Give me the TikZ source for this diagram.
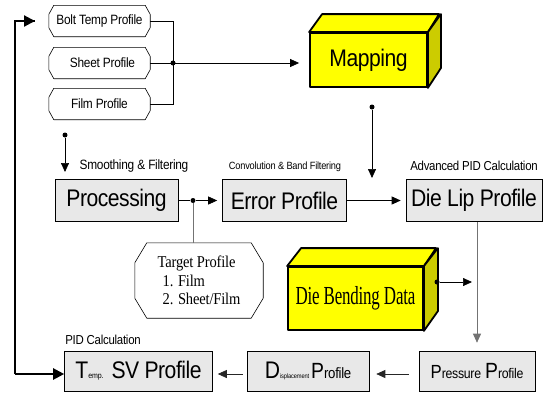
\documentclass[tikz,border=0pt]{standalone}
\usepackage{fontspec}
\usepackage{graphicx}
\setmainfont{Liberation Sans}
\newfontfamily\sfT[LetterSpace=-2,FakeStretch=0.88]{Liberation Sans}
\newfontfamily\rmT[LetterSpace=-1,FakeStretch=0.88]{Liberation Serif}
\usetikzlibrary{arrows.meta,calc}
\definecolor{boxgray}{RGB}{232,232,232}
\definecolor{yel}{RGB}{255,255,0}
\definecolor{yelside}{RGB}{204,204,0}
\newcommand\fs[1]{\fontsize{#1}{#1}\selectfont}
\newcommand\octobox[3]{%
  \draw[octline] ([xshift=#2]#1.north west) -- ([xshift=-#2]#1.north east)
    -- ([yshift=-#3]#1.north east) -- ([yshift=#3]#1.south east)
    -- ([xshift=-#2]#1.south east) -- ([xshift=#2]#1.south west)
    -- ([yshift=#3]#1.south west) -- ([yshift=-#3]#1.north west) -- cycle;}
\begin{document}
\begin{tikzpicture}[x=1pt,y=-1pt,
  graybox/.style={draw=black, line width=0.6pt, fill=boxgray, inner sep=0pt},
  bigtxt/.style={font=\sfT\fs{24}},
  small/.style={font=\sfT\fs{13.5}, inner sep=0pt},
  profnode/.style={inner sep=0pt, minimum width=101pt, minimum height=31pt, font=\sfT\fs{13.5}},
  octline/.style={draw=black, line width=0.6pt, line join=round},
  front3d/.style={draw=black, line width=1.8pt, fill=yel, inner sep=0pt, line join=round},
  face3d/.style={draw=black, line width=1.8pt, line join=round},
  con/.style={line width=0.7pt, -{Triangle[length=9pt,width=8pt]}},
  plain/.style={line width=0.7pt},
  grayline/.style={line width=0.7pt, draw=black!55},
  thickcon/.style={line width=2.2pt, -{Triangle[length=11pt,width=11pt]}},
  dot/.style={circle, fill=black, inner sep=0pt, minimum size=5pt}
]
\useasboundingbox (0,0) rectangle (547,394);

% input profiles
\node[profnode] (bolt) at (99.5,21) {Bolt Temp Profile};
\node[profnode] (sheet) at (99.5,63) {\hspace*{6pt}Sheet Profile};
\node[profnode] (film) at (99.5,104) {Film Profile};
\octobox{bolt}{5pt}{9pt}
\octobox{sheet}{5pt}{9pt}
\octobox{film}{5pt}{9pt}

% Mapping 3D box
\node[front3d, minimum width=117pt, minimum height=54pt, font=\sfT\fs{24}] (map) at (368.5,60) {Mapping};
\draw[face3d, fill=yel] (map.north west) -- ++(13,-18) -- ++(117,0) -- (map.north east) -- cycle;
\draw[face3d, fill=yelside] (map.north east) -- ++(13,-18) -- ++(0,54) -- (map.south east) -- cycle;

% bracket
\coordinate (bj) at (173,63);
\draw[plain] (bolt.east) -- (bolt.east -| bj) -- (film.east -| bj) -- (film.east);
\draw[plain] (sheet.east) -- (bj);
\node[dot] (bjd) at (bj) {};
\draw[con, shorten >=10pt] (bj) -- (bj -| map.west);

% mapping drop
\node[dot] (mapdot) at (372,107) {};
\coordinate (maptip) at (372,178);
\draw[con] (mapdot) -- (maptip);

% second row
\node[graybox, bigtxt, minimum width=123pt, minimum height=42pt] (proc) at (116.5,200.5) {Processing};
\node[graybox, bigtxt, minimum width=124pt, minimum height=42pt] (err) at (284.5,200.5) {Error Profile};
\node[graybox, bigtxt, minimum width=136pt, minimum height=42pt] (lip) at (474,200.5) {Die Lip Profile};

\node[small] (smooth) at (134,166) {Smoothing \& Filtering};
\node[font=\sfT\fs{10.5}, inner sep=0pt] (conv) at (285,167) {Convolution \& Band Filtering};
\node[small, font=\sfT\fs{13}] (adv) at (474,166) {Advanced PID Calculation};

\node[dot] (ldot) at (65,135) {};
\coordinate (ltip) at (65,172);
\draw[con] (ldot) -- (ltip);

\node[dot] (pdot) at (193,200.5) {};
\draw[plain] (proc.east) -- (pdot);
\draw[con, shorten >=5pt] (pdot) -- (err.west);
\draw[con, shorten >=5pt] (err.east) -- (lip.west);

% target profile
\node[inner sep=0pt, minimum width=128pt, minimum height=75pt, align=left, font=\rmT\fs{16.5}] (tgt) at (199,280.5)
  {Target Profile\\[2pt]\hspace*{5pt}1. Film\\[2pt]\hspace*{5pt}2. Sheet/Film};
\octobox{tgt}{12pt}{20pt}
\draw[grayline] (pdot) -- (pdot |- tgt.north);

% Die bending 3D box
\node[front3d, minimum width=135pt, minimum height=63pt] (bend) at (355.5,298.5)
  {\scalebox{0.74}[1]{\rmT\fs{26}Die Bending Data}};
\draw[face3d, fill=yel] (bend.north west) -- ++(14,-18) -- ++(135,0) -- (bend.north east) -- cycle;
\draw[face3d, fill=yelside] (bend.north east) -- ++(14,-18) -- ++(0,63) -- (bend.south east) -- cycle;
\node[dot] (bdot) at (437,282) {};
\coordinate (btip) at (472,282);
\draw[con] (bdot) -- (btip);

% bottom row
\node[graybox, minimum width=116pt, minimum height=40pt] (pres) at (477,371)
  {\sfT{\fs{19}P}{\fs{14}ressure}\hspace{4pt}{\fs{22}P}{\fs{14}rofile}};
\node[graybox, minimum width=122pt, minimum height=40pt] (disp) at (308,371)
  {\sfT{\fs{24}D}{\fs{6.5}isplacement}\hspace{2pt}{\fs{22}P}{\fs{15}rofile}};
\node[graybox, minimum width=148pt, minimum height=40pt] (temp) at (138.5,371)
  {\sfT{\fs{24}T}{\fs{8}emp.}\hspace{8pt}{\fs{24}SV Profile}};
\node[small, font=\sfT\fs{13}] (pidc) at (103,340) {PID Calculation};

\draw[grayline, -{Triangle[length=9pt,width=8pt]}, shorten >=8pt] (lip.south -| pres.north) -- (pres.north);
\draw[con, draw=black!85, shorten <=10pt, shorten >=7pt] (pres.west |- 0,374) -- (disp.east |- 0,374);
\draw[con, draw=black!85, shorten <=4pt, shorten >=5pt] (disp.west |- 0,374) -- (temp.east |- 0,374);

% feedback loop
\coordinate (lbot) at (15,374);
\coordinate (ltop) at (15,21);
\coordinate (ltoptip) at (35,21);
\draw[line width=2.2pt] (lbot) -- (ltop) -- (ltoptip);
\draw[thickcon] ([xshift=-1pt]ltop) -- (ltoptip);
\draw[thickcon] (lbot) -- (temp.west |- lbot);
\end{tikzpicture}
\end{document}
